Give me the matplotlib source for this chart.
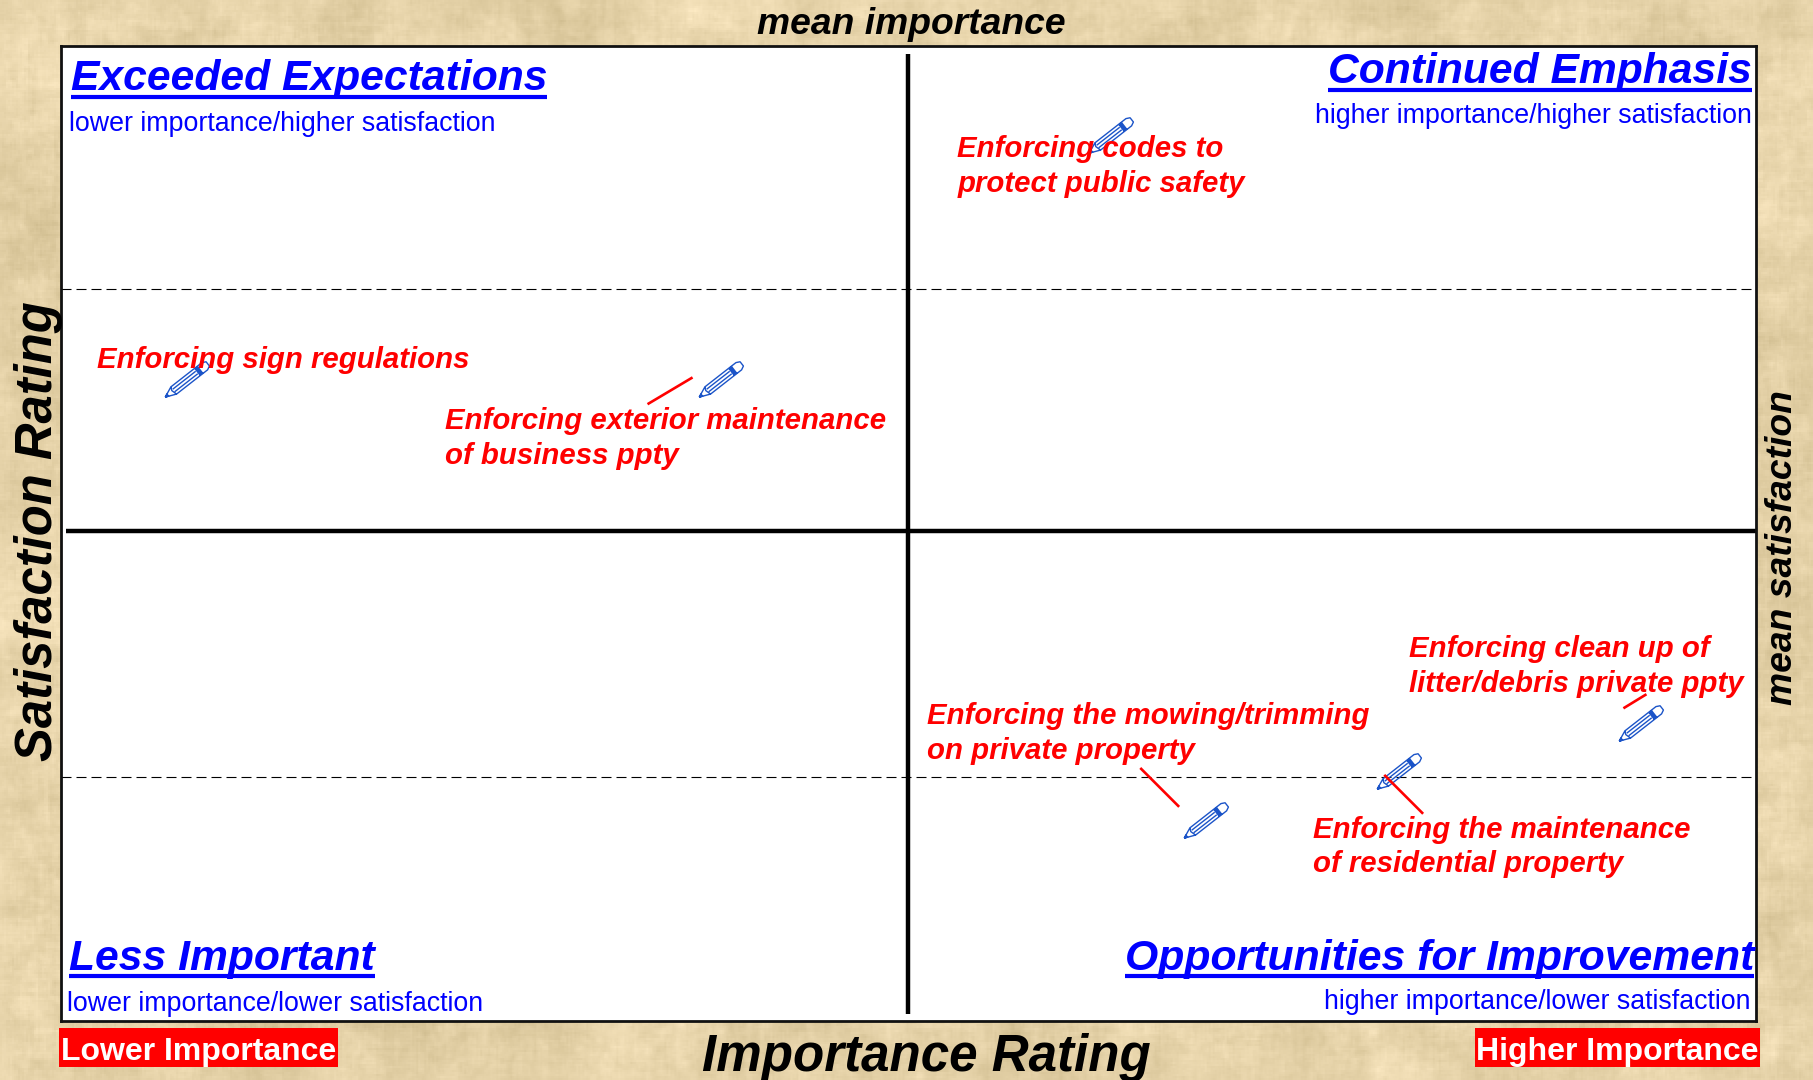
import numpy as np
import matplotlib
matplotlib.use("Agg")
import matplotlib.pyplot as plt
from matplotlib.path import Path
from matplotlib.lines import Line2D
from matplotlib.patches import Rectangle

# ---- data (rating scale is nominal, the chart has no ticks)
items = ["Enforcing sign regulations", "Enforcing exterior maintenance\nof business ppty",
         "Enforcing codes to\nprotect public safety", "Enforcing the mowing/trimming\non private property",
         "Enforcing the maintenance\nof residential property", "Enforcing clean up of\nlitter/debris private ppty"]
importance = [7.35, 38.85, 61.85, 67.45, 78.85, 93.15]
satisfaction = [76.3, 76.3, 86.3, 58.2, 60.2, 62.2]
mean_importance = 49.93
mean_satisfaction = 70.1
guide_levels = [60, 80.05]

W, H = 1813, 1080
S = 1813 / 1568
plt.rcParams['font.family'] = ['Liberation Sans', 'DejaVu Sans']
fig = plt.figure(figsize=(W / 100, H / 100), dpi=100)

def fx(x): return x * S / W
def fy(y): return 1 - y * S / H

# parchment background
bg = fig.add_axes([0, 0, 1, 1], zorder=0)
bg.axis('off')
rng = np.random.default_rng(3)
def blur(a, n):
    k = np.ones(n) / n
    a = np.apply_along_axis(lambda r: np.convolve(r, k, mode='same'), 0, a)
    return np.apply_along_axis(lambda r: np.convolve(r, k, mode='same'), 1, a)
small = np.zeros((H // 2, W // 2))
for n, amp in [(61, 70), (25, 40), (9, 18), (3, 7)]:
    small += amp * blur(rng.normal(size=small.shape), n) * np.sqrt(n) / 2.2
tex = np.kron(small, np.ones((2, 2)))[:H, :W]
base = np.array([229, 210, 168])
rgb = np.clip(base[None, None, :] + tex[..., None] * np.array([1, 1, 1.15]), 0, 255) / 255
bg.imshow(rgb, aspect='auto', interpolation='bilinear')

# plot area
ax = fig.add_axes([fx(53), fy(883), fx(1519) - fx(53), fy(40) - fy(883)], zorder=1)
ax.set_xlim(0, 100)
ax.set_ylim(50, 90)
ax.set_xticks([])
ax.set_yticks([])
ax.set_facecolor('white')
for s in ax.spines.values():
    s.set_linewidth(2.0)
    s.set_color('#111111')

for lev in guide_levels:
    ax.axhline(lev, color='black', lw=0.8, dashes=(9, 4.5), zorder=1)
ax.axvline(mean_importance, ymin=0.007, ymax=0.992, color='black', lw=3.2, zorder=2, solid_capstyle='butt')
ax.axhline(mean_satisfaction, xmin=0.003, color='black', lw=3.2, zorder=2, solid_capstyle='butt')

# pencil marker: axis along +x, tip at the left, then tilted up to the right
def pencil():
    w = 0.085
    verts, codes = [], []
    def poly(pts):
        for i, p in enumerate(pts):
            verts.append(p)
            codes.append(Path.MOVETO if i == 0 else Path.LINETO)
    poly([(0, 0), (0.2, w), (0.93, w), (1.0, 0.05), (1.0, -0.05), (0.93, -w), (0.2, -w), (0, 0)])
    poly([(0.2, w), (0.17, 0.02), (0.2, -w)])
    poly([(0.2, 0.03), (0.74, 0.03)])
    poly([(0.2, -0.03), (0.74, -0.03)])
    for d in (0.76, 0.78, 0.80, 0.82):
        poly([(d, w), (d, -w)])
    poly([(0, 0), (0.06, 0.025), (0.06, -0.025), (0, 0)])
    a = np.deg2rad(38)
    R = np.array([[np.cos(a), -np.sin(a)], [np.sin(a), np.cos(a)]])
    pts = (np.array(verts) - [0.5, 0]) @ R.T
    return Path(pts, codes)

ax.plot(importance, satisfaction, ls='none', marker=pencil(), ms=33, mfc='none',
        mec='#1b54c8', mew=1.0, zorder=3, clip_on=False)

# item labels (left x, baseline of the last line in the shrunk reference frame)
label_pos = [(84, 318), (385, 401), (828, 166), (802, 656.5), (1135.5, 754.5), (1218.5, 598.5)]
for t, (x, y) in zip(items, label_pos):
    fig.text(fx(x), fy(y), t, color='#ff0000', fontsize=21.2, fontweight='bold', fontstyle='italic',
             va='baseline', ha='left', linespacing=1.3, zorder=5)

# leader lines
leaders = [((561, 349), (598, 327)), ((987, 665), (1019, 697)),
           ((1198, 671), (1230, 703)), ((1405, 612), (1423, 601))]
for a, b in leaders:
    fig.add_artist(Line2D([fx(a[0]), fx(b[0])], [fy(a[1]), fy(b[1])], color='#ff0000', lw=1.9, zorder=5))

# quadrant titles
quads = [("Exceeded Expectations", 61, 78, 'left', 30.7, "lower importance/higher satisfaction", 60, 113),
         ("Continued Emphasis", 1515, 72, 'right', 30.7, "higher importance/higher satisfaction", 1515, 106),
         ("Less Important", 60, 839, 'left', 30.7, "lower importance/lower satisfaction", 58, 874),
         ("Opportunities for Improvement", 1517, 839, 'right', 30.8, "higher importance/lower satisfaction", 1514, 873)]
fig.canvas.draw()
rend = fig.canvas.get_renderer()
for t, x, y, ha, fs, sub, sx, sy in quads:
    tx = fig.text(fx(x), fy(y), t, color='#0000ff', fontsize=fs, fontweight='bold', fontstyle='italic',
                  ha=ha, va='baseline', zorder=5)
    bb = tx.get_window_extent(rend)
    fig.add_artist(Line2D([bb.x0 / W, bb.x1 / W], [fy(y + 5.5), fy(y + 5.5)], color='#0000ff', lw=3.0,
                          solid_capstyle='butt', zorder=5))
    fig.text(fx(sx), fy(sy), sub, color='#0000ff', fontsize=19.25, ha=ha, va='baseline', zorder=5)

# outer labels
fig.text(fx(788), fy(29), "mean importance", fontsize=26.8, fontweight='bold', fontstyle='italic',
         ha='center', va='baseline', color='black', zorder=5)
fig.text(fx(801), fy(926), "Importance Rating", fontsize=36.8, fontweight='bold', fontstyle='italic',
         ha='center', va='baseline', color='black', zorder=5)
fig.text(fx(45), fy(459), "Satisfaction Rating", fontsize=36.5, fontweight='bold', fontstyle='italic',
         rotation=90, ha='center', va='baseline', rotation_mode='anchor', color='black', zorder=5)
fig.text(fx(1550), fy(474), "mean satisfaction", fontsize=26.8, fontweight='bold', fontstyle='italic',
         rotation=90, ha='center', va='baseline', rotation_mode='anchor', color='black', zorder=5)

for t, x0, x1 in [("Lower Importance", 51, 292), ("Higher Importance", 1276, 1522)]:
    fig.add_artist(Rectangle((fx(x0), fy(923)), fx(x1) - fx(x0), fy(889) - fy(923), transform=fig.transFigure,
                             facecolor='#ff0000', edgecolor='none', zorder=4))
    fig.text(fx((x0 + x1) / 2), fy(916.5), t, color='white', fontsize=23, fontweight='bold',
             ha='center', va='baseline', zorder=5)

fig.savefig('out.png', dpi=100)
